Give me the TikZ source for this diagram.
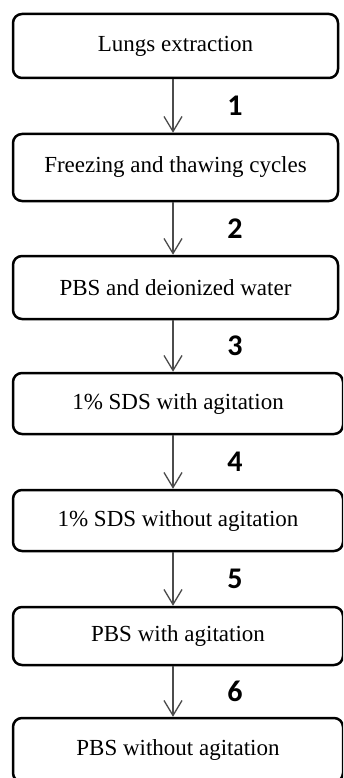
\documentclass[tikz,border=0pt]{standalone}
\usepackage{fontspec}
\setmainfont{Liberation Serif}
\newfontfamily\numfont{Carlito}
\usetikzlibrary{arrows.meta}
\begin{document}
\begin{tikzpicture}[x=1pt,y=-1pt,
        stage/.style={draw,line width=2.5pt,rounded corners=9pt,inner sep=0pt,
                font=\fontsize{23}{27}\selectfont},
        flow/.style={draw=black!70,line width=1.3pt,
                -{Straight Barb[length=15pt,width=18pt,line width=1.3pt]}},
        stepnum/.style={font=\numfont\bfseries\fontsize{30}{33}\selectfont}]
    \useasboundingbox (0,0) rectangle (343,778);
    \clip (0,0) rectangle (343,778);
    \coordinate (spine) at (173,0);
    \node[stage,minimum width=325pt,minimum height=64pt] (lungs) at (175.5,46) {Lungs extraction};
    \node[stage,minimum width=325pt,minimum height=67pt] (freeze) at (175.5,167.5) {Freezing and thawing cycles};
    \node[stage,minimum width=325pt,minimum height=63pt] (water) at (175.5,287.5) {PBS and deionized water};
    \node[stage,minimum width=330pt,minimum height=61pt] (sdsagit) at (178,403.5) {1\% SDS with agitation};
    \node[stage,minimum width=330pt,minimum height=61pt] (sdsrest) at (178,520.5) {1\% SDS without agitation};
    \node[stage,minimum width=330pt,minimum height=58pt] (pbsagit) at (178,636) {PBS with agitation};
    \node[stage,minimum width=330pt,minimum height=64pt] (pbsrest) at (178,750) {PBS without agitation};
    \foreach \a/\b/\n in {lungs/freeze/1,freeze/water/2,water/sdsagit/3,
            sdsagit/sdsrest/4,sdsrest/pbsagit/5,pbsagit/pbsrest/6} {
            \draw[flow] (\a.south -| spine) -- (\b.north -| spine)
                node[midway,xshift=62pt,stepnum] (n\n) {\n};
        }
\end{tikzpicture}
\end{document}
